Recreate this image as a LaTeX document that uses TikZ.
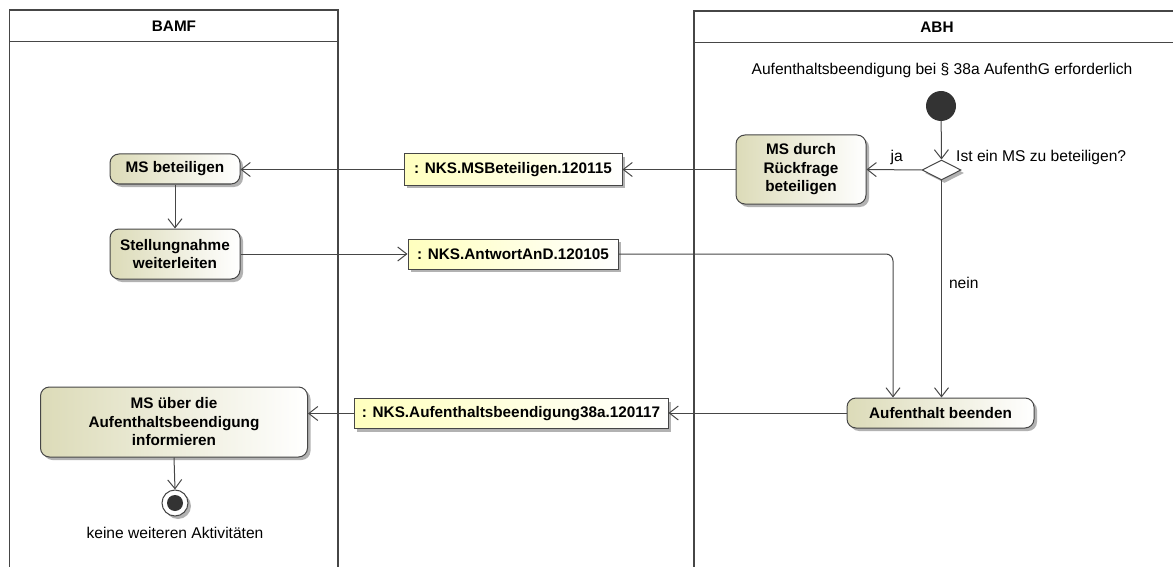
\documentclass[tikz,border=0pt]{standalone}
\usepackage{fontspec}
\setmainfont{Liberation Sans}
\usetikzlibrary{arrows.meta,shapes.geometric,shadows,calc}
\definecolor{actL}{RGB}{220,219,184}
\definecolor{objL}{RGB}{255,255,190}
\definecolor{ln}{RGB}{70,70,70}
\newcommand\fszb{\fontsize{15.3}{18.5}\selectfont}
\newcommand\fszr{\fontsize{15.6}{18.5}\selectfont}
\begin{document}
\begin{tikzpicture}[x=1pt,y=-1pt,
  dshadow/.style={drop shadow={shadow xshift=3pt,shadow yshift=-3pt,fill=black!30,opacity=1}},
  action/.style={draw=ln,line width=1pt,rounded corners=9pt,left color=actL,right color=white,
    align=center,font=\fszb\bfseries,inner sep=0pt,dshadow},
  objbox/.style={draw=ln,line width=1pt,left color=objL,right color=white,
    align=center,font=\fszb\bfseries,inner sep=0pt,minimum height=30pt,dshadow},
  lane/.style={draw=ln,line width=1.8pt},
  conn/.style={draw=ln,line width=1pt,-{Straight Barb[length=9pt,width=14pt,line width=1pt]}},
  plain/.style={font=\fszr,inner sep=0pt},
  title/.style={font=\fszb\bfseries,inner sep=0pt}
]
\useasboundingbox (0,0) rectangle (1173,567);
% lanes
\draw[lane] (9.5,570) -- (9.5,10) -- (338,10) -- (338,570);
\draw[lane] (9.5,41.5) -- (338,41.5);
\draw[lane] (694,570) -- (694,11) -- (1180,11);
\draw[lane] (694,42.5) -- (1180,42.5);
\node[title] (tbamf) at (174,26) {BAMF};
\node[title] (tabh) at (937,27) {ABH};
% ABH nodes
\node[plain] (startlbl) at (942,70) {Aufenthaltsbeendigung bei § 38a AufenthG erforderlich};
\node[circle,fill=black!80,minimum size=30pt,inner sep=0pt] (init) at (941,106) {};
\node[diamond,draw=ln,line width=1pt,fill=white,aspect=2,minimum width=39pt,minimum height=20pt,inner sep=0pt,dshadow] (dec) at (941.5,170) {};
\node[plain,anchor=west] (ist) at (956,157) {Ist ein MS zu beteiligen?};
\node[action,minimum width=130pt,minimum height=69pt] (msdurch) at (801,169.5) {MS durch\\Rückfrage\\beteiligen};
\node[action,minimum width=187pt,minimum height=30pt] (aufb) at (940.5,413) {Aufenthalt beenden};
% objects
\node[objbox,minimum width=218pt,minimum height=31pt] (obj1) at (513,169.5) {: NKS.MSBeteiligen.120115};
\node[objbox,minimum width=210pt] (obj2) at (513,254) {: NKS.AntwortAnD.120105};
\node[objbox,minimum width=314pt] (obj3) at (511,413.5) {: NKS.Aufenthaltsbeendigung38a.120117};
% BAMF nodes
\node[action,minimum width=130pt,minimum height=30pt] (msbet) at (175,169) {MS beteiligen};
\node[action,minimum width=130pt,minimum height=50pt] (stell) at (175,254) {Stellungnahme\\weiterleiten};
\node[action,minimum width=267pt,minimum height=70pt] (msueber) at (174,422) {MS über die\\Aufenthaltsbeendigung\\informieren};
\node[circle,draw=ln,line width=1pt,fill=white,minimum size=26pt,inner sep=0pt,dshadow] (final) at (175,503) {};
\node[circle,fill=black!80,minimum size=16pt,inner sep=0pt] (finalin) at (final.center) {};
\node[plain] (endlbl) at (175,533) {keine weiteren Aktivitäten};
% connectors
\draw[conn] (init) -- (dec.north);
\draw[conn] (dec.west) -- node[plain,above=5pt,pos=0.45] (ja) {ja} (msdurch.east);
\draw[conn] (dec.south) -- (dec.south |- aufb.north) node[plain,pos=0.47,anchor=west,xshift=7pt] (nein) {nein};
\draw[conn] (msdurch.west) -- (obj1.east);
\draw[conn] (obj1.west) -- (obj1.west -| msbet.east);
\draw[conn] (msbet.south) -- (stell.north);
\draw[conn] (stell.east) -- (obj2.west);
\draw[conn,rounded corners=7pt] (obj2.east) -| ([xshift=-47.5pt]aufb.north);
\draw[conn] (aufb.west) -- (aufb.west -| obj3.east);
\draw[conn] (obj3.west) -- (obj3.west -| msueber.east);
\draw[conn] (msueber.south) -- (final.north);
\end{tikzpicture}
\end{document}
